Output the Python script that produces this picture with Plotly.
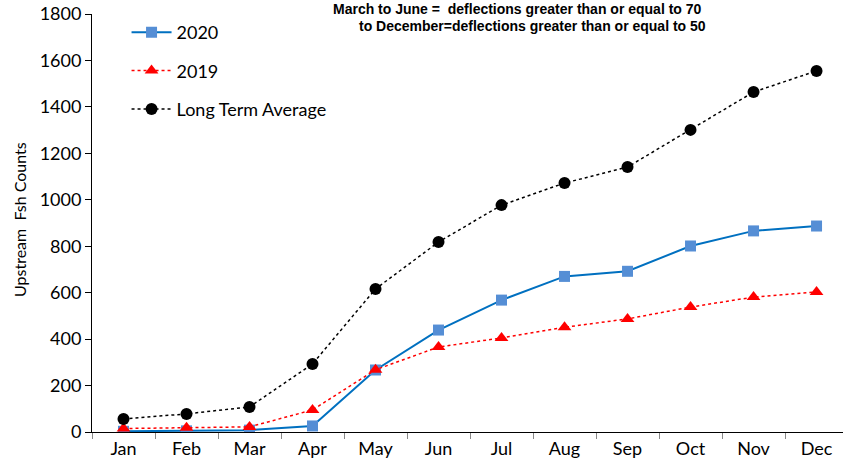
import plotly.graph_objects as go

months = ["Jan", "Feb", "Mar", "Apr", "May", "Jun", "Jul", "Aug", "Sep", "Oct", "Nov", "Dec"]
y2020 = [3, 5, 8, 26, 267, 439, 568, 670, 692, 801, 866, 887]
y2019 = [15, 18, 22, 95, 268, 366, 405, 451, 487, 538, 581, 603]
lta = [56, 78, 108, 293, 616, 818, 977, 1072, 1141, 1301, 1464, 1555]
yticks = [0, 200, 400, 600, 800, 1000, 1200, 1400, 1600, 1800]

font_main = "Lato, 'Open Sans', sans-serif"

fig = go.Figure()
fig.add_trace(go.Scatter(
    x=months, y=y2020, name="2020", mode="lines+markers", legendgroup="a",
    line=dict(color="#0070C0", width=2),
    marker=dict(symbol="square", size=11, color="#558ED5"),
))
fig.add_trace(go.Scatter(
    x=months, y=y2019, name="2019", mode="lines+markers", legendgroup="b",
    line=dict(color="#FF0000", width=1.5, dash="dot"),
    marker=dict(symbol="triangle-up", size=12, color="#FF0000"),
))
fig.add_trace(go.Scatter(
    x=months, y=lta, name="Long Term Average", mode="lines+markers", legendgroup="c",
    line=dict(color="#000000", width=1.5, dash="dot"),
    marker=dict(symbol="circle", size=12, color="#000000"),
))

fig.update_layout(
    width=843, height=467,
    margin=dict(l=92, r=0, t=14, b=35),
    paper_bgcolor="white", plot_bgcolor="white",
    font=dict(family=font_main, size=18, color="#000"),
    showlegend=True,
    legend=dict(
        x=0.046, y=1.0, xanchor="left", yanchor="top",
        bgcolor="rgba(0,0,0,0)", font=dict(size=18, family=font_main),
        tracegroupgap=12, itemwidth=40,
    ),
    xaxis=dict(
        type="category", categoryorder="array", categoryarray=months,
        range=[-0.5, 11.42], showline=True, linecolor="#000", linewidth=1,
        ticks="outside", tickson="boundaries", ticklen=6, tickcolor="#888",
        showgrid=False, zeroline=False, tickfont=dict(size=18),
        automargin=False,
    ),
    yaxis=dict(
        range=[0, 1800], tickvals=yticks, showline=True, linecolor="#000",
        linewidth=1, ticks="outside", ticklen=6, tickcolor="#000",
        showgrid=False, zeroline=False, tickfont=dict(size=18),
        automargin=False,
    ),
)

fig.add_annotation(
    text="Upstream  Fsh Counts", textangle=-90,
    xref="paper", yref="paper", x=0, y=0.5, xshift=-73, yshift=3,
    xanchor="center", yanchor="middle", showarrow=False,
    font=dict(family=font_main, size=16, color="#000"),
)

title_font = dict(family="Liberation Sans, Arial, sans-serif", size=14, color="#000", weight="bold")
fig.add_annotation(
    text="March to June =  deflections greater than or equal to 70",
    xref="paper", yref="paper", x=0.566, y=1.0, yshift=5,
    xanchor="center", yanchor="middle", showarrow=False, font=title_font,
)
fig.add_annotation(
    text="to December=deflections greater than or equal to 50",
    xref="paper", yref="paper", x=0.587, y=1.0, yshift=-12,
    xanchor="center", yanchor="middle", showarrow=False, font=title_font,
)

fig.write_html("out.html", config={"displayModeBar": False},
               post_script="document.body.style.margin='0';")
